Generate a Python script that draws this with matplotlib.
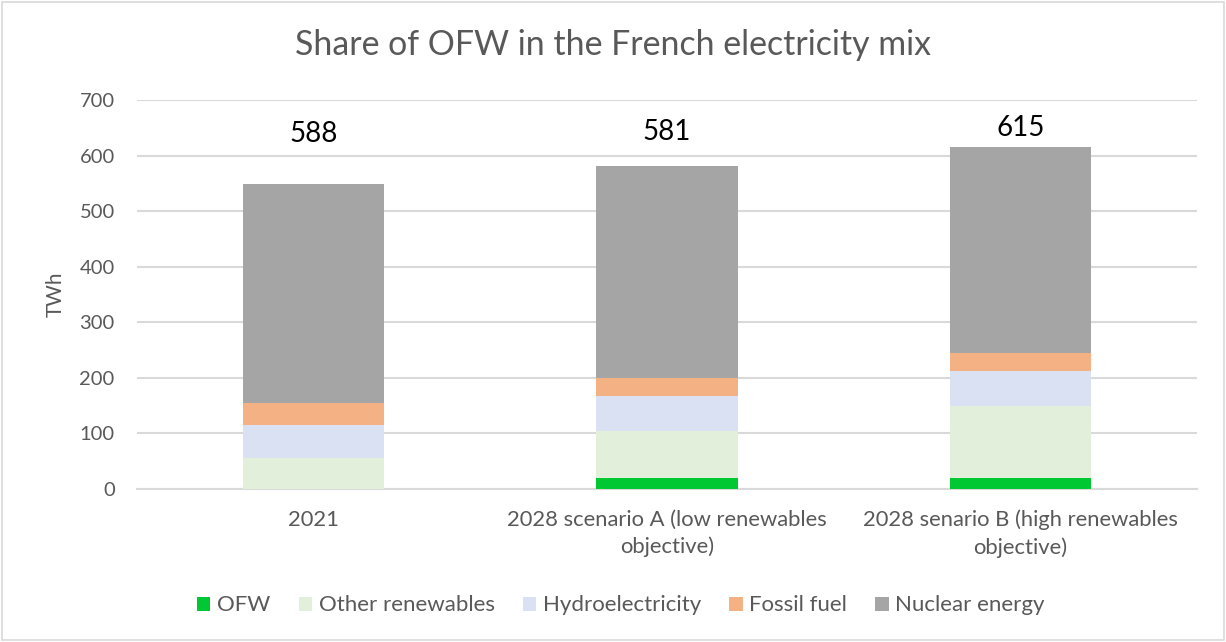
import numpy as np
import matplotlib
matplotlib.use("Agg")
import matplotlib.pyplot as plt
from matplotlib.patches import Rectangle

categories = ["2021",
              "2028 scenario A (low renewables\nobjective)",
              "2028 senario B (high renewables\nobjective)"]
series_names = ["OFW", "Other renewables", "Hydroelectricity", "Fossil fuel", "Nuclear energy"]
ofw = [0, 20, 20]
other_renew = [55, 84, 130]
hydro = [60, 63, 62]
fossil = [40, 32, 32]
nuclear = [394, 382, 371]
totals_label = [588, 581, 615]
label_y = [638, 642, 650]

colors = ["#00C832", "#E2EFDA", "#D9E1F2", "#F4B183", "#A5A5A5"]
txt = "#595959"

plt.rcParams['font.family'] = ['Lato', 'DejaVu Sans']

fig = plt.figure(figsize=(12.26, 6.42), dpi=100)
ax = fig.add_axes([0.1117, 0.2383, 0.8646, 0.6059])

x = np.arange(len(categories))
bottom = np.zeros(len(categories))
for name, vals, c in zip(series_names, [ofw, other_renew, hydro, fossil, nuclear], colors):
    ax.bar(x, vals, 0.4, bottom=bottom, color=c, label=name, zorder=3)
    bottom += np.array(vals)

# total labels above bars
for xi, t, ly in zip(x, totals_label, label_y):
    ax.text(xi, ly, str(t), ha="center", va="center", fontsize=20, color="black")

ax.set_xlim(-0.5, 2.5)
ax.set_ylim(0, 700)
ax.set_yticks(range(0, 701, 100))
ax.grid(axis="y", color="#D9D9D9", linewidth=1.5, zorder=0)
for s in ["top", "right", "left"]:
    ax.spines[s].set_visible(False)
ax.spines["bottom"].set_color("#D9D9D9")
ax.spines["bottom"].set_linewidth(1.5)
ax.tick_params(axis="x", length=0, labelsize=15.8, labelcolor=txt, pad=15)
ax.tick_params(axis="y", length=0, labelsize=14.5, labelcolor=txt, pad=16)
ax.set_xticks(x)
ax.set_xticklabels(categories, multialignment="center", linespacing=1.4)
ax.set_ylabel("TWh", fontsize=15, color=txt, labelpad=10)

# title centred on the whole chart
fig.text(0.5, 0.93, "Share of OFW in the French electricity mix", fontsize=24.4,
         color=txt, ha="center", va="center")

leg = fig.legend(loc="center", bbox_to_anchor=(0.5065, 0.057), ncol=5, frameon=False,
                 fontsize=16, handlelength=0.6, handleheight=0.6, handletextpad=0.3,
                 columnspacing=1.27)
for t in leg.get_texts():
    t.set_color(txt)

fig.patches.append(Rectangle((0.002, 0.003), 0.996, 0.994, transform=fig.transFigure,
                             fill=False, edgecolor="#D9D9D9", linewidth=1.2))

fig.savefig("out.png", dpi=100)
